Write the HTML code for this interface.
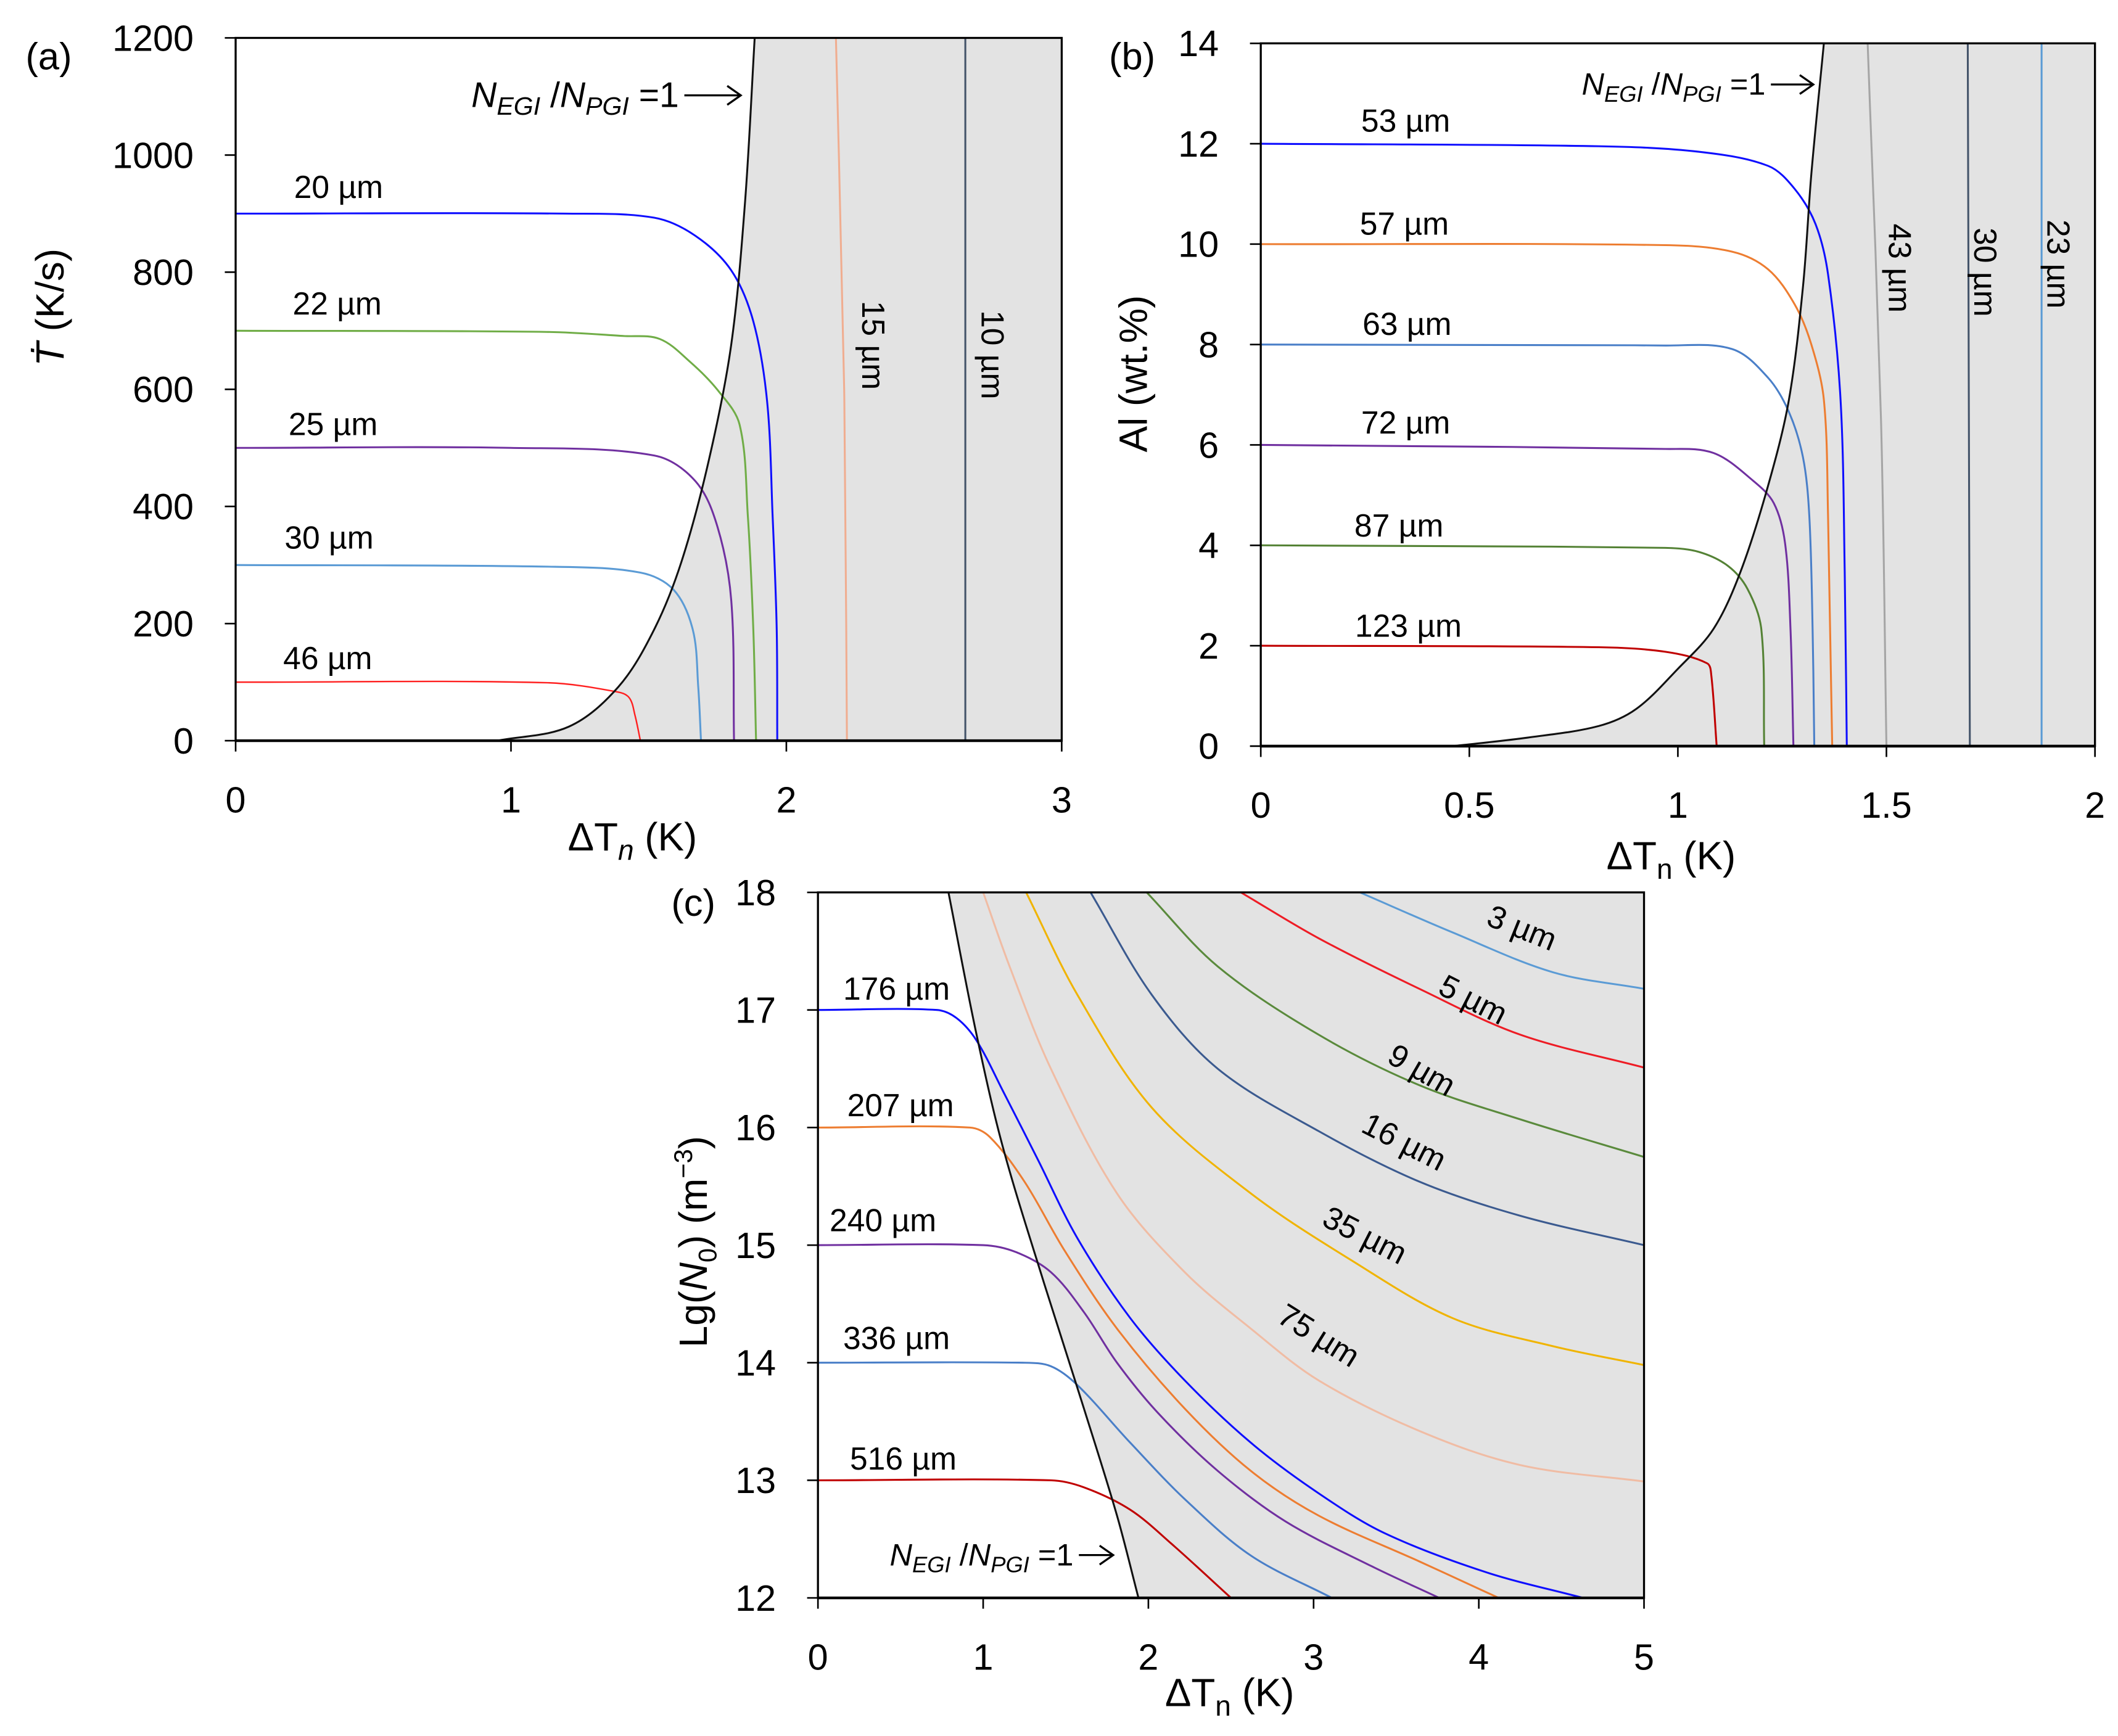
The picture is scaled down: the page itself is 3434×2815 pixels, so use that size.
<!DOCTYPE html>
<html><head><meta charset="utf-8"><style>
html,body{margin:0;padding:0;background:#fff}
svg{display:block}
text{font-family:"Liberation Sans",sans-serif;fill:#000}
</style></head><body>
<svg id="fig" xmlns="http://www.w3.org/2000/svg" width="3434" height="2815" viewBox="0 0 1564 1282" preserveAspectRatio="none">
<g id="root"></g>
</svg>
<script>
// ---------- Panel (a) data ----------
const aXTicks=[0,1,2,3];
const aYTicks=[0,200,400,600,800,1000,1200];
const aBoundX=[0.95,1.21,1.39,1.52,1.62,1.72,1.80,1.85,1.885];
const aBoundY=[0,24,92,190,307,482,677,920,1200];
const a20X=[0,1.2,1.52,1.67,1.80,1.88,1.93,1.95,1.965,1.967];
const a20Y=[900,900,893,862,803,716,580,385,190,0];
const a22X=[0,1.13,1.41,1.54,1.65,1.75,1.83,1.86,1.88,1.89];
const a22Y=[700,698,691,686,647,599,540,385,190,0];
const a25X=[0,1.0,1.52,1.67,1.75,1.80,1.81];
const a25Y=[500,500,487,443,365,239,0];
const a30X=[0,1.16,1.47,1.59,1.66,1.68,1.69];
const a30Y=[300,297,287,258,190,92,0];
const a46X=[0,1.13,1.39,1.43,1.45,1.47];
const a46Y=[100,99,83,73,44,0];
const a15X=[2.18,2.21,2.22];
const a15Y=[1200,600,0];
const a10X=[2.65,2.65];
const a10Y=[1200,0];
// ---------- Panel (b) data ----------
const bXTicks=[0,0.5,1,1.5,2];
const bXTickLabels=["0","0.5","1","1.5","2"];
const bYTicks=[0,2,4,6,8,10,12,14];
const bBoundX=[0.46,0.64,0.81,0.90,1.0,1.085,1.15,1.216,1.266,1.30,1.32,1.35];
const bBoundY=[0,0.17,0.4,0.74,1.54,2.33,3.47,5.18,6.89,9.16,11.4,14];
const b53X=[0,0.81,1.05,1.216,1.28,1.33,1.36,1.39,1.40,1.405];
const b53Y=[12,11.95,11.84,11.56,11.1,10.4,9.4,6.9,3.47,0];
const b57X=[0,0.97,1.13,1.216,1.28,1.32,1.35,1.36,1.37];
const b57Y=[10,9.98,9.85,9.5,8.8,8.0,6.9,4.6,0];
const b63X=[0,0.97,1.13,1.216,1.266,1.30,1.315,1.323,1.327];
const b63Y=[8,7.98,7.91,7.34,6.66,5.75,4.6,2.33,0];
const b72X=[0,0.97,1.085,1.18,1.23,1.257,1.27,1.277];
const b72Y=[6,5.92,5.84,5.29,4.84,4.04,2.33,0];
const b87X=[0,0.97,1.05,1.12,1.167,1.2,1.207];
const b87Y=[4,3.95,3.87,3.59,3.13,2.33,0];
const b123X=[0,0.81,0.97,1.07,1.08,1.093];
const b123Y=[2,1.97,1.88,1.65,1.42,0];
const b43X=[1.455,1.487,1.5];
const b43Y=[14,6.5,0];
const b30X=[1.695,1.70];
const b30Y=[14,0];
const b23X=[1.872,1.872];
const b23Y=[14,0];
// ---------- Panel (c) data ----------
const cXTicks=[0,1,2,3,4,5];
const cYTicks=[12,13,14,15,16,17,18];
const cBoundX=[0.79,0.96,1.12,1.37,1.61,1.81,1.94];
const cBoundY=[18,16.79,15.83,14.67,13.61,12.70,12];
const c176X=[0,0.72,0.84,0.96,1.12,1.33,1.57,1.89,2.22,2.62,3.03,3.43,4.04,4.63];
const c176Y=[17,17,16.93,16.74,16.31,15.73,15.06,14.38,13.85,13.32,12.89,12.55,12.22,12];
const c207X=[0,0.92,1.04,1.25,1.49,1.81,2.22,2.62,3.03,3.64,4.12];
const c207Y=[16,16,15.92,15.54,14.96,14.29,13.61,13.08,12.70,12.31,12];
const c240X=[0,1.0,1.20,1.41,1.61,1.81,2.06,2.42,2.83,3.35,3.76];
const c240Y=[15,15,14.94,14.77,14.43,14.0,13.57,13.08,12.65,12.27,12];
const c336X=[0,1.24,1.41,1.57,1.89,2.22,2.62,3.11];
const c336Y=[14,14,13.97,13.81,13.32,12.84,12.36,12];
const c516X=[0,1.41,1.61,1.89,2.14,2.5];
const c516Y=[13,13,12.94,12.75,12.46,12];
const c75X=[1.0,1.16,1.41,1.81,2.22,2.62,3.03,3.64,4.25,5];
const c75Y=[18,17.37,16.5,15.44,14.77,14.29,13.85,13.42,13.13,12.99];
const c35X=[1.26,1.57,2.02,2.62,3.23,3.84,4.45,5];
const c35Y=[18,17.13,16.17,15.44,14.87,14.38,14.14,13.98];
const c16X=[1.65,2.02,2.42,3.03,3.64,4.25,5];
const c16Y=[18,17.13,16.5,15.97,15.54,15.25,15.0];
const c9X=[1.99,2.42,3.03,3.64,4.25,5];
const c9Y=[18,17.37,16.79,16.36,16.07,15.75];
const c5X=[2.56,3.03,3.64,4.25,5];
const c5Y=[18,17.61,17.18,16.79,16.51];
const c3X=[3.28,3.84,4.45,5];
const c3Y=[18,17.66,17.32,17.18];

const NS="http://www.w3.org/2000/svg";
const root=document.getElementById('root');
function el(tag,attrs,parent,txt){const e=document.createElementNS(NS,tag);for(const k in attrs)e.setAttribute(k,attrs[k]);if(txt!==undefined)e.textContent=txt;(parent||root).appendChild(e);return e;}
function unit(a,b){const dx=b[0]-a[0],dy=b[1]-a[1],l=Math.hypot(dx,dy)||1;return [dx/l,dy/l];}
function smoothPath(pts){
  let d=`M${pts[0][0].toFixed(2)},${pts[0][1].toFixed(2)}`;
  for(let i=0;i<pts.length-1;i++){const p0=pts[i-1]||pts[i],p1=pts[i],p2=pts[i+1],p3=pts[i+2]||p2;
    const L=Math.hypot(p2[0]-p1[0],p2[1]-p1[1])/3;
    const t1=unit(p0,p2),t2=unit(p1,p3);
    const c1=[p1[0]+t1[0]*L,p1[1]+t1[1]*L],c2=[p2[0]-t2[0]*L,p2[1]-t2[1]*L];
    d+=` C${c1[0].toFixed(2)},${c1[1].toFixed(2)} ${c2[0].toFixed(2)},${c2[1].toFixed(2)} ${p2[0].toFixed(2)},${p2[1].toFixed(2)}`;}
  return d;}
function makeAxes(x0,x1,y0,y1,dx0,dx1,dy0,dy1){
  return {sx:v=>x0+(v-dx0)/(dx1-dx0)*(x1-x0), sy:v=>y0-(v-dy0)/(dy1-dy0)*(y0-y1), x0,x1,y0,y1};}
function drawShade(ax,bx,by,corner,name){
  const pts=bx.map((v,i)=>[ax.sx(v),ax.sy(by[i])]);
  let d=smoothPath(pts);
  corner.forEach(c=>{d+=` L${ax.sx(c[0])},${ax.sy(c[1])}`});d+=' Z';
  const p=el('path',{d,fill:'#e3e3e3',stroke:'none'});
  
  }
function drawLine(ax,xs,ys,color,name,w){
  const pts=xs.map((v,i)=>[ax.sx(v),ax.sy(ys[i])]);
  const p=el('path',{d:smoothPath(pts),fill:'none',stroke:color,'stroke-width':w||1.4,'stroke-linejoin':'round'});
  
  }
function drawFrame(ax,xt,xl,yt,yl,pname){
  const g=el('g',{});
  
  
  el('rect',{x:ax.x0,y:ax.y1,width:ax.x1-ax.x0,height:ax.y0-ax.y1,fill:'none',stroke:'#000','stroke-width':1.5},g);
  el('line',{x1:ax.x0,y1:ax.y0,x2:ax.x1,y2:ax.y0,stroke:'#000','stroke-width':2},g);
  xt.forEach((v,i)=>{const x=ax.sx(v);el('line',{x1:x,y1:ax.y0,x2:x,y2:ax.y0+8,stroke:'#000','stroke-width':1.2},g);
    const t=el('text',{x:x,y:ax.y0+53,'font-size':27,'text-anchor':'middle'},g,xl?xl[i]:String(v));
    
    });
  yt.forEach((v,i)=>{const y=ax.sy(v);el('line',{x1:ax.x0-8,y1:y,x2:ax.x0,y2:y,stroke:'#000','stroke-width':1.2},g);
    const t=el('text',{x:ax.x0-31,y:y+9.5,'font-size':27,'text-anchor':'end'},g,yl?yl[i]:String(v));
    
    });}
function label(x,y,txt,name,rot,size){
  const t=el('text',{x,y,'font-size':size||23.5,'text-anchor':'middle','dominant-baseline':'central',transform:rot?`rotate(${rot} ${x} ${y})`:''},root,txt);
  
  }
function nlabel(x,y,x2,name,size){
  const g=el('g',{});
  
  
  const t=el('text',{x,y,'font-size':size,'text-anchor':'start'},g);
  const s=size*0.72;
  t.innerHTML=`<tspan font-style="italic">N</tspan><tspan font-style="italic" font-size="${s}" dy="${size*0.22}">EGI</tspan><tspan dy="${-size*0.22}"> /</tspan><tspan font-style="italic">N</tspan><tspan font-style="italic" font-size="${s}" dy="${size*0.22}">PGI</tspan><tspan dy="${-size*0.22}"> =1</tspan>`;
  const len=t.getComputedTextLength();
  const ax0=x+len+4, ay=y-size*0.33;
  el('line',{x1:ax0,y1:ay,x2:x2,y2:ay,stroke:'#000','stroke-width':1.5},g);
  el('path',{d:`M${x2-10},${ay-7} L${x2},${ay} L${x2-10},${ay+7}`,fill:'none',stroke:'#000','stroke-width':1.5},g);}
function axTitle(x,y,html,name,rot,size){
  const t=el('text',{x,y,'font-size':size||29,'text-anchor':'middle',transform:rot?`rotate(${rot} ${x} ${y})`:''});
  
  
  t.innerHTML=html;}

// ---------- Panel (a) ----------
const A=makeAxes(174,784,547,28,0,3,0,1200);
drawShade(A,aBoundX,aBoundY,[[3,1200],[3,0]],'panel-a-shaded-region');
drawLine(A,a15X,a15Y,'#f0ad90','panel-a-15um-line');
drawLine(A,a10X,a10Y,'#44546a','panel-a-10um-line');
drawLine(A,a46X,a46Y,'#ff2020','panel-a-46um-line',1.1);
drawLine(A,a30X,a30Y,'#5b9bd5','panel-a-30um-line');
drawLine(A,a25X,a25Y,'#7030a0','panel-a-25um-line');
drawLine(A,a22X,a22Y,'#70ad47','panel-a-22um-line');
drawLine(A,a20X,a20Y,'#0f0fff','panel-a-20um-line');
drawLine(A,aBoundX,aBoundY,'#111','panel-a-boundary-line');
drawFrame(A,aXTicks,null,aYTicks,null,'panel-a');
label(250,138,'20 µm','label-20um');label(249,224,'22 µm','label-22um');label(246,313,'25 µm','label-25um');
label(243,397,'30 µm','label-30um');label(242,486,'46 µm','label-46um');
label(645,255,'15 µm','label-15um',90);label(733,262,'10 µm','label-10um',90);
nlabel(348,79,547,'panel-a-boundary-label',26);
axTitle(467,628,'ΔT<tspan font-style="italic" font-size="21" dy="7">n</tspan><tspan dy="-7"> (K)</tspan>','panel-a-x-axis-title');
axTitle(47,227,'<tspan font-style="italic">Ṫ</tspan>  (K/s)','panel-a-y-axis-title',-90);
label(36,42,'(a)','panel-a-tag',0,28);

// ---------- Panel (b) ----------
const B=makeAxes(931,1547,551,32,0,2,0,14);
drawShade(B,bBoundX,bBoundY,[[2,14],[2,0]],'panel-b-shaded-region');
drawLine(B,b43X,b43Y,'#a5a5a5','panel-b-43um-line');
drawLine(B,b30X,b30Y,'#44546a','panel-b-30um-line');
drawLine(B,b23X,b23Y,'#5b9bd5','panel-b-23um-line');
drawLine(B,b123X,b123Y,'#c00000','panel-b-123um-line');
drawLine(B,b87X,b87Y,'#548235','panel-b-87um-line');
drawLine(B,b72X,b72Y,'#7030a0','panel-b-72um-line');
drawLine(B,b63X,b63Y,'#4a7fc8','panel-b-63um-line');
drawLine(B,b57X,b57Y,'#ed7d31','panel-b-57um-line');
drawLine(B,b53X,b53Y,'#0f0fff','panel-b-53um-line');
drawLine(B,bBoundX,bBoundY,'#111','panel-b-boundary-line');
drawFrame(B,bXTicks,bXTickLabels,bYTicks,null,'panel-b');
label(1038,89,'53 µm','label-53um');label(1037,165,'57 µm','label-57um');label(1039,239,'63 µm','label-63um');
label(1038,312,'72 µm','label-72um');label(1033,388,'87 µm','label-87um');label(1040,462,'123 µm','label-123um');
label(1403,198,'43 µm','label-43um',90);label(1466,201,'30 µm','label-30um-b',90);label(1520,195,'23 µm','label-23um',90);
nlabel(1168,70,1339,'panel-b-boundary-label',23);
axTitle(1234,642,'ΔT<tspan font-size="21" dy="7">n</tspan><tspan dy="-7"> (K)</tspan>','panel-b-x-axis-title');
axTitle(847,276,'Al  (wt.%)','panel-b-y-axis-title',-90);
label(836,42,'(b)','panel-b-tag',0,28);

// ---------- Panel (c) ----------
const C=makeAxes(604,1214,1180,659,0,5,12,18);
drawShade(C,cBoundX,cBoundY,[[5,12],[5,18]],'panel-c-shaded-region');
drawLine(C,c75X,c75Y,'#f0bca4','panel-c-75um-line');
drawLine(C,c35X,c35Y,'#f0b400','panel-c-35um-line');
drawLine(C,c16X,c16Y,'#3b5a8f','panel-c-16um-line');
drawLine(C,c9X,c9Y,'#5a8a3c','panel-c-9um-line');
drawLine(C,c5X,c5Y,'#ee1c25','panel-c-5um-line');
drawLine(C,c3X,c3Y,'#5b9bd5','panel-c-3um-line');
drawLine(C,c516X,c516Y,'#c00000','panel-c-516um-line');
drawLine(C,c336X,c336Y,'#4a7fc8','panel-c-336um-line');
drawLine(C,c240X,c240Y,'#7030a0','panel-c-240um-line');
drawLine(C,c207X,c207Y,'#ed7d31','panel-c-207um-line');
drawLine(C,c176X,c176Y,'#0f0fff','panel-c-176um-line');
drawLine(C,cBoundX,cBoundY,'#111','panel-c-boundary-line');
drawFrame(C,cXTicks,null,cYTicks,null,'panel-c');
label(662,730,'176 µm','label-176um');label(665,816,'207 µm','label-207um');label(652,901,'240 µm','label-240um');
label(662,988,'336 µm','label-336um');label(667,1077,'516 µm','label-516um');
label(1124,685,'3 µm','label-3um',22);label(1088,738,'5 µm','label-5um',27);label(1050,790,'9 µm','label-9um',30);
label(1037,843,'16 µm','label-16um',27);label(1008,912,'35 µm','label-35um',27);label(974,986,'75 µm','label-75um',32);
nlabel(657,1156,822,'panel-c-boundary-label',23);
axTitle(908,1260,'ΔT<tspan font-size="21" dy="7">n</tspan><tspan dy="-7"> (K)</tspan>','panel-c-x-axis-title');
axTitle(522,917,'Lg(<tspan font-style="italic">N</tspan><tspan font-size="19" dy="7">0</tspan><tspan dy="-7">)  (m</tspan><tspan font-size="19" dy="-11">−3</tspan><tspan dy="11">)</tspan>','panel-c-y-axis-title',-90);
label(512,667,'(c)','panel-c-tag',0,28);
</script>
</body></html>
